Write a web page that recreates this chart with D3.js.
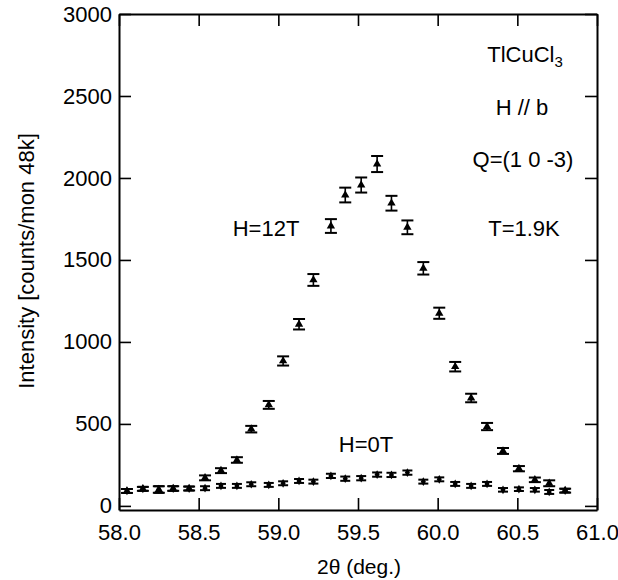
<!DOCTYPE html>
<html>
<head>
<meta charset="utf-8">
<script src="https://cdn.jsdelivr.net/npm/d3@7"></script>
<style>
  body { margin: 0; background: #fff; }
  text { font-family: "Liberation Sans", Arial, sans-serif; fill: #000; }
</style>
</head>
<body>
<script>
var width = 618;
var height = 580;

// scattering angle 2theta (deg.)
var angle = [58.05, 58.15, 58.25, 58.34, 58.44, 58.54, 58.64, 58.74, 58.83, 58.94,
             59.03, 59.13, 59.22, 59.33, 59.42, 59.52, 59.62, 59.71, 59.81, 59.91,
             60.01, 60.11, 60.21, 60.31, 60.41, 60.51, 60.61, 60.70, 60.80];

// H = 12T
var int12 = [91, 104, 100, 106, 106, 171, 215, 280, 468, 616,
             884, 1108, 1378, 1707, 1896, 1957, 2085, 1846, 1699, 1449,
             1175, 849, 658, 484, 335, 227, 159, 138, 93];
var err12 = [12, 12, 20, 14, 12, 15, 15, 17, 20, 24,
             28, 32, 36, 42, 45, 46, 49, 45, 42, 38,
             34, 29, 26, 22, 18, 16, 14, 18, 12];

// H = 0T
var int0 = [91, 104, 100, 106, 106, 108, 122, 122, 132, 128,
            138, 152, 148, 183, 166, 169, 191, 189, 203, 148,
            162, 134, 122, 134, 98, 102, 98, 85, 93];
var err0 = [12, 12, 20, 14, 12, 12, 12, 12, 12, 12,
            12, 12, 12, 13, 13, 13, 13, 13, 13, 12,
            12, 12, 12, 12, 11, 11, 11, 12, 11];

var xTicks = [58.0, 58.5, 59.0, 59.5, 60.0, 60.5, 61.0];
var yTicks = [0, 500, 1000, 1500, 2000, 2500, 3000];

var svg = d3.select("body").append("svg")
  .attr("width", width)
  .attr("height", height);

var xScale = d3.scaleLinear().domain([58, 61]).range([119, 597]);
var yScale = d3.scaleLinear().domain([-25, 3000]).range([510, 14]);

function styleAxis(g) {
  g.select(".domain").attr("stroke-width", 2);
  g.selectAll(".tick line").attr("stroke-width", 1.6);
  g.selectAll(".tick text").style("font-size", "22px").attr("font-family", null);
}

// axes, ticks pointing inward
svg.append("g")
  .attr("transform", "translate(0," + yScale(-25) + ")")
  .call(d3.axisBottom(xScale).tickValues(xTicks).tickFormat(d3.format(".1f"))
    .tickSizeInner(-12).tickSizeOuter(0).tickPadding(14))
  .call(styleAxis);

svg.append("g")
  .attr("transform", "translate(0," + yScale(3000) + ")")
  .call(d3.axisTop(xScale).tickValues(xTicks).tickFormat("")
    .tickSizeInner(-12).tickSizeOuter(0))
  .call(styleAxis);

svg.append("g")
  .attr("transform", "translate(" + xScale(58) + ",0)")
  .call(d3.axisLeft(yScale).tickValues(yTicks).tickFormat(d3.format("d"))
    .tickSizeInner(-12).tickSizeOuter(0).tickPadding(7))
  .call(styleAxis);

svg.append("g")
  .attr("transform", "translate(" + xScale(61) + ",0)")
  .call(d3.axisRight(yScale).tickValues(yTicks).tickFormat("")
    .tickSizeInner(-12).tickSizeOuter(0))
  .call(styleAxis);

// error bars + markers
function drawSeries(vals, errs, capW, symbol, cls) {
  var data = angle.map(function(a, i) { return {x: a, y: vals[i], e: errs[i]}; });
  var g = svg.append("g").attr("class", cls);
  var pts = g.selectAll("g").data(data).enter().append("g");
  pts.append("line")
    .attr("x1", function(d) { return xScale(d.x); })
    .attr("x2", function(d) { return xScale(d.x); })
    .attr("y1", function(d) { return yScale(d.y - d.e); })
    .attr("y2", function(d) { return yScale(d.y + d.e); })
    .attr("stroke", "#000").attr("stroke-width", 1.6);
  [-1, 1].forEach(function(s) {
    pts.append("line")
      .attr("x1", function(d) { return xScale(d.x) - capW / 2; })
      .attr("x2", function(d) { return xScale(d.x) + capW / 2; })
      .attr("y1", function(d) { return yScale(d.y + s * d.e); })
      .attr("y2", function(d) { return yScale(d.y + s * d.e); })
      .attr("stroke", "#000").attr("stroke-width", 2);
  });
  pts.append("path")
    .attr("d", symbol)
    .attr("transform", function(d) { return "translate(" + xScale(d.x) + "," + yScale(d.y) + ")"; })
    .attr("fill", "#000");
}

drawSeries(int0, err0, 10, d3.symbol().type(d3.symbolDiamond).size(22)(), "h0");
drawSeries(int12, err12, 12, d3.symbol().type(d3.symbolTriangle).size(30)(), "h12");

// labels
svg.append("text")
  .attr("transform", "translate(28,261) rotate(-90)")
  .attr("text-anchor", "middle")
  .attr("dominant-baseline", "middle")
  .style("font-size", "22px")
  .text("Intensity [counts/mon 48k]");

svg.append("text")
  .attr("x", 359).attr("y", 574)
  .attr("text-anchor", "middle")
  .style("font-size", "21px")
  .text("2θ (deg.)");

var formula = svg.append("text")
  .attr("x", 525).attr("y", 62)
  .attr("text-anchor", "middle")
  .style("font-size", "22px");
formula.append("tspan").text("TlCuCl");
formula.append("tspan").attr("dy", 5).style("font-size", "15px").text("3");

var notes = [
  {t: "H // b", x: 522, y: 115},
  {t: "Q=(1 0 -3)", x: 523, y: 167},
  {t: "T=1.9K", x: 524, y: 236},
  {t: "H=12T", x: 266, y: 236},
  {t: "H=0T", x: 366, y: 452}
];
svg.selectAll(".note").data(notes).enter().append("text")
  .attr("class", "note")
  .attr("x", function(d) { return d.x; })
  .attr("y", function(d) { return d.y; })
  .attr("text-anchor", "middle")
  .style("font-size", "22px")
  .text(function(d) { return d.t; });
</script>
</body>
</html>
